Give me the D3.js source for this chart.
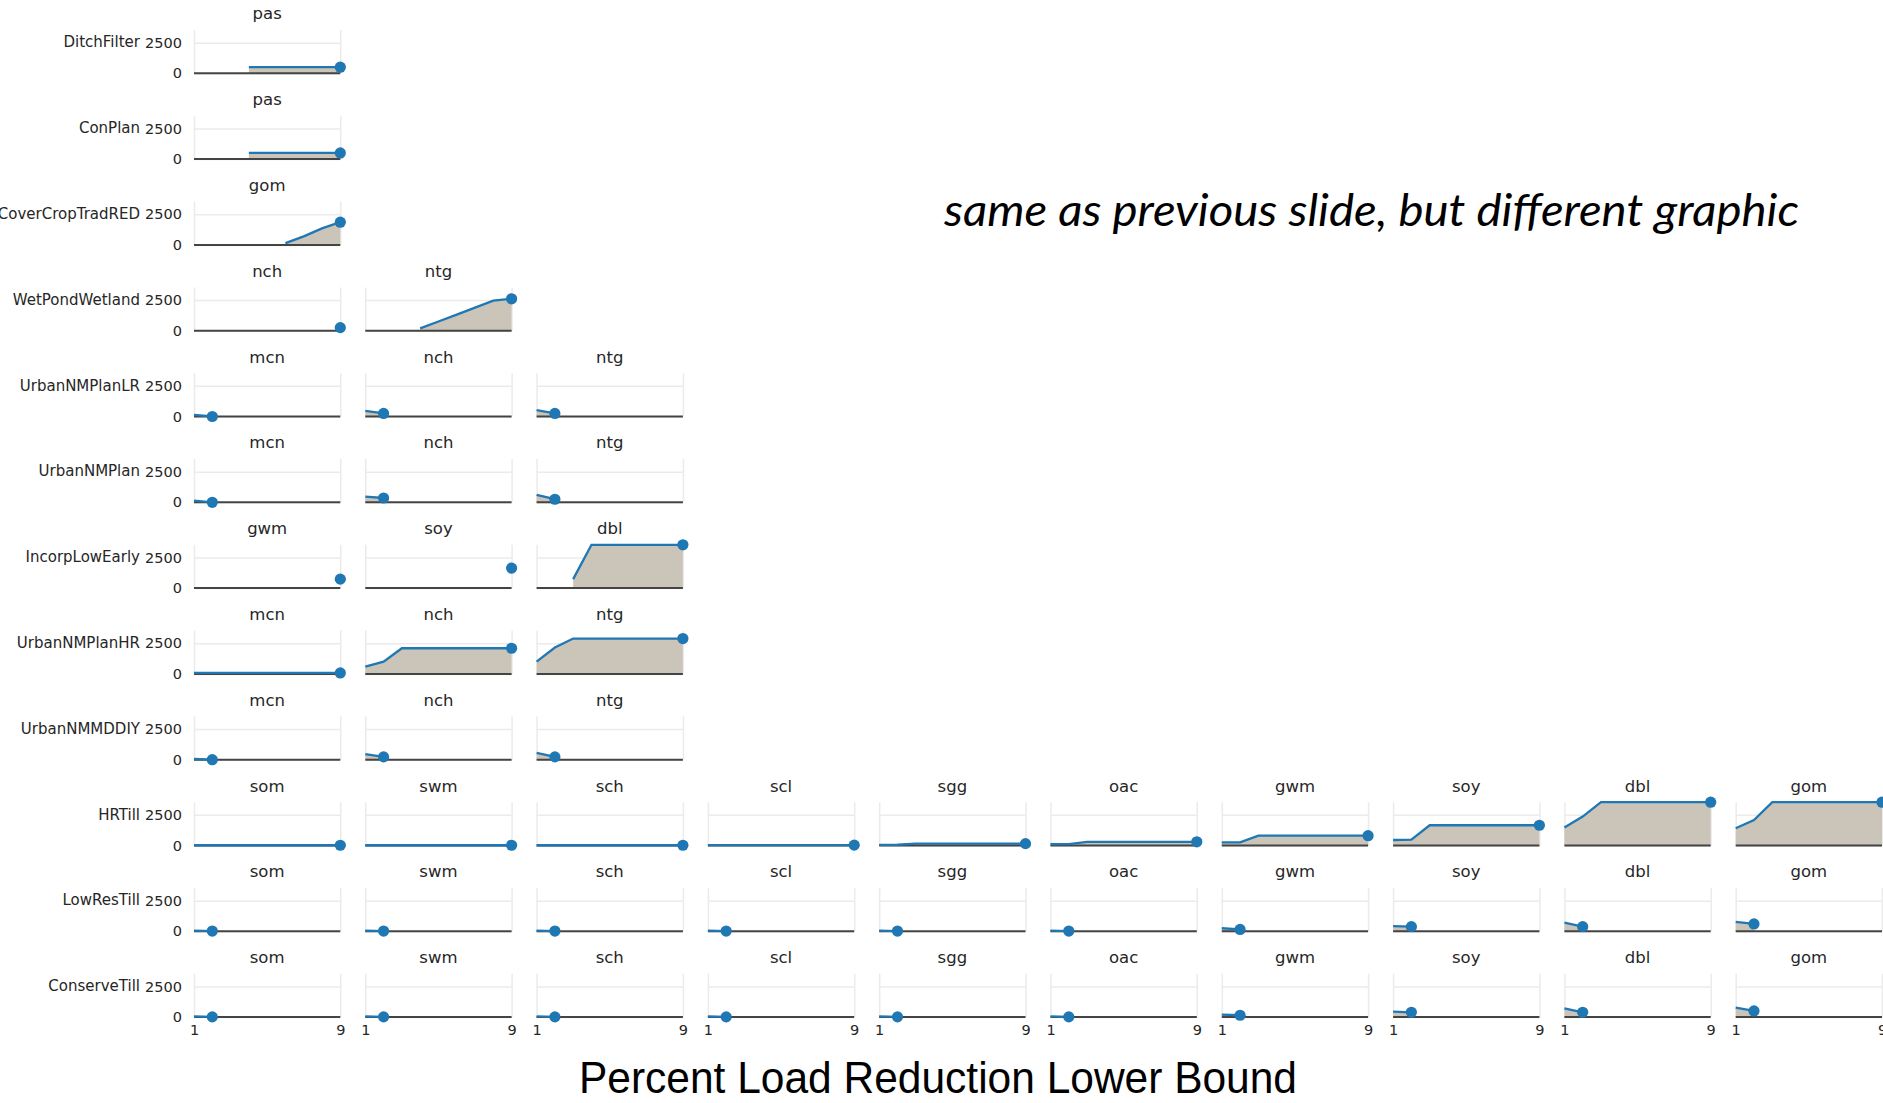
<!DOCTYPE html>
<html>
<head>
<meta charset="utf-8">
<script src="https://cdn.jsdelivr.net/npm/d3@7"></script>
<style>
    body { margin: 0; background: #ffffff; overflow: hidden; }
    .panel_title { font-family: "DejaVu Sans", sans-serif; font-size: 16.5px; fill: #262626; }
    .row_label { font-family: "DejaVu Sans", sans-serif; font-size: 15px; fill: #262626; }
    .tick text { font-family: "DejaVu Sans", sans-serif; font-size: 14.5px; fill: #262626; }
    .grid line { stroke: #ebebeb; stroke-width: 1.5; }
    .grid .domain { display: none; }
    .labels .domain, .labels line { display: none; }
</style>
</head>
<body>
<div id="chart"></div>
<script>

// percent load reduction lower bound (x axis)
const xValues = [1, 2, 3, 4, 5, 6, 7, 8, 9];
const xTicks = [1, 9];
const yTicks = [0, 2500];

// one row per BMP, with the crops (facet titles) in that row
const rowNames = ["DitchFilter", "ConPlan", "CoverCropTradRED", "WetPondWetland",
    "UrbanNMPlanLR", "UrbanNMPlan", "IncorpLowEarly", "UrbanNMPlanHR",
    "UrbanNMMDDIY", "HRTill", "LowResTill", "ConserveTill"];

const tillCrops = ["som", "swm", "sch", "scl", "sgg", "oac", "gwm", "soy", "dbl", "gom"];
const rowCrops = [["pas"], ["pas"], ["gom"], ["nch", "ntg"],
    ["mcn", "nch", "ntg"], ["mcn", "nch", "ntg"], ["gwm", "soy", "dbl"],
    ["mcn", "nch", "ntg"], ["mcn", "nch", "ntg"],
    tillCrops, tillCrops, tillCrops];

// values at x = 1..9, null where there is no point
const n = null;
const ditchFilter = [
    [n, n, n, 500, 500, 500, 500, 500, 500]];
const conPlan = [
    [n, n, n, 500, 500, 500, 500, 500, 500]];
const coverCropTradRED = [
    [n, n, n, n, n, 150, 700, 1350, 1850]];
const wetPondWetland = [
    [n, n, n, n, n, n, n, n, 250],
    [n, n, n, 190, 750, 1310, 1880, 2450, 2600]];
const urbanNMPlanLR = [
    [130, 0], [460, 250], [520, 250]];
const urbanNMPlan = [
    [130, 0], [460, 350], [600, 250]];
const incorpLowEarly = [
    [n, n, n, n, n, n, n, n, 730],
    [n, n, n, n, n, n, n, n, 1630],
    [n, n, 730, 3530, 3530, 3530, 3530, 3530, 3530]];
const urbanNMPlanHR = [
    [80, 80, 80, 80, 80, 80, 80, 80, 80],
    [600, 1000, 2090, 2090, 2090, 2090, 2090, 2090, 2090],
    [1000, 2150, 2880, 2880, 2880, 2880, 2880, 2880, 2880]];
const urbanNMMDDIY = [
    [60, 0], [450, 230], [550, 230]];
const hrTill = [
    [20, 20, 20, 20, 20, 20, 20, 20, 20],
    [20, 20, 20, 20, 20, 20, 20, 20, 20],
    [20, 20, 20, 20, 20, 20, 20, 20, 20],
    [30, 30, 30, 30, 30, 30, 30, 30, 30],
    [50, 60, 150, 150, 150, 150, 150, 150, 150],
    [100, 110, 300, 300, 300, 300, 300, 300, 300],
    [250, 250, 800, 800, 800, 800, 800, 800, 800],
    [450, 480, 1650, 1650, 1650, 1650, 1650, 1650, 1650],
    [1460, 2360, 3530, 3530, 3530, 3530, 3530, 3530, 3530],
    [1400, 2080, 3530, 3530, 3530, 3530, 3530, 3530, 3530]];
const lowResTill = [
    [60, 20], [60, 20], [60, 20], [60, 20], [60, 20], [60, 20],
    [250, 150], [430, 380], [700, 380], [760, 600]];
const conserveTill = [
    [60, 20], [60, 20], [60, 20], [60, 20], [60, 20], [60, 20],
    [200, 150], [440, 390], [710, 390], [770, 500]];

const rowValues = [ditchFilter, conPlan, coverCropTradRED, wetPondWetland,
    urbanNMPlanLR, urbanNMPlan, incorpLowEarly, urbanNMPlanHR,
    urbanNMMDDIY, hrTill, lowResTill, conserveTill];

// facet grid geometry
const left = 194, colStep = 171.3, panelW = 146.3;
const firstBase = 73.3, rowStep = 85.8, panelH = 43.3;

const width = 1883, height = 1103;
const svg = d3.select("#chart")
    .append("svg")
    .attr("width", width)
    .attr("height", height);

// shared y scale across all panels
const yMax = d3.max(rowValues.flat(2));
const y = d3.scaleLinear().domain([0, yMax]).range([panelH, 0]);
const x = d3.scaleLinear().domain([1, 9]).range([0, panelW]);

const area = d3.area()
    .defined(d => d != null)
    .x((d, i) => x(xValues[i]))
    .y0(y(0))
    .y1(d => y(d));

const line = d3.line()
    .defined(d => d != null)
    .x((d, i) => x(xValues[i]))
    .y(d => y(d));

rowNames.forEach((name, r) => {
    let top = firstBase + r * rowStep - panelH;

    rowCrops[r].forEach((crop, c) => {
        let values = rowValues[r][c];
        let g = svg.append("g")
            .attr("transform", `translate(${left + c * colStep},${top})`);

        // light grid lines
        g.append("g")
            .classed("grid", true)
            .call(d3.axisLeft(y).tickValues(yTicks).tickSize(-panelW).tickFormat(""));
        g.append("g")
            .classed("grid", true)
            .attr("transform", `translate(0,${panelH})`)
            .call(d3.axisBottom(x).tickValues(xTicks).tickSize(panelH).tickFormat(""))
            .selectAll("line")
            .attr("y2", -panelH);

        // filled area under the curve
        g.append("path")
            .datum(values)
            .attr("d", area)
            .attr("fill", "#cbc4b8");

        // zero line
        g.append("line")
            .attr("x1", 0)
            .attr("x2", panelW)
            .attr("y1", y(0))
            .attr("y2", y(0))
            .attr("stroke", "#444444")
            .attr("stroke-width", 2);

        g.append("path")
            .datum(values)
            .attr("d", line)
            .attr("fill", "none")
            .attr("stroke", "#1f77b4")
            .attr("stroke-width", 2.3);

        // marker on the last point
        let last = d3.max(values.map((v, i) => v == null ? -1 : i));
        g.append("circle")
            .attr("cx", x(xValues[last]))
            .attr("cy", y(values[last]))
            .attr("r", 5.6)
            .attr("fill", "#1f77b4");

        g.append("text")
            .classed("panel_title", true)
            .attr("x", panelW / 2)
            .attr("y", panelH - 54)
            .attr("text-anchor", "middle")
            .text(crop);

        if (c == 0) {
            g.append("g")
                .classed("labels", true)
                .call(d3.axisLeft(y).tickValues(yTicks).tickSize(0).tickPadding(12)
                    .tickFormat(d3.format("d")));

            g.append("text")
                .classed("row_label", true)
                .attr("x", -54)
                .attr("y", y(2500))
                .attr("dy", "0.32em")
                .attr("text-anchor", "end")
                .text(name);
        }

        if (r == rowNames.length - 1) {
            g.append("g")
                .classed("labels", true)
                .attr("transform", `translate(0,${panelH})`)
                .call(d3.axisBottom(x).tickValues(xTicks).tickSize(0).tickPadding(8));
        }
    });
});

// x axis label for the whole grid
svg.append("text")
    .attr("x", 579)
    .attr("y", 1093)
    .attr("textLength", 718)
    .attr("lengthAdjust", "spacingAndGlyphs")
    .style("font-family", "'Liberation Sans', Arial, sans-serif")
    .style("font-size", "44px")
    .style("fill", "#000")
    .text("Percent Load Reduction Lower Bound");

// slide note
svg.append("text")
    .attr("x", 944)
    .attr("y", 226)
    .attr("textLength", 855)
    .attr("lengthAdjust", "spacingAndGlyphs")
    .style("font-family", "Lato, 'Open Sans', sans-serif")
    .style("font-style", "italic")
    .style("font-size", "44px")
    .style("fill", "#000")
    .text("same as previous slide, but different graphic");

</script>
</body>
</html>
